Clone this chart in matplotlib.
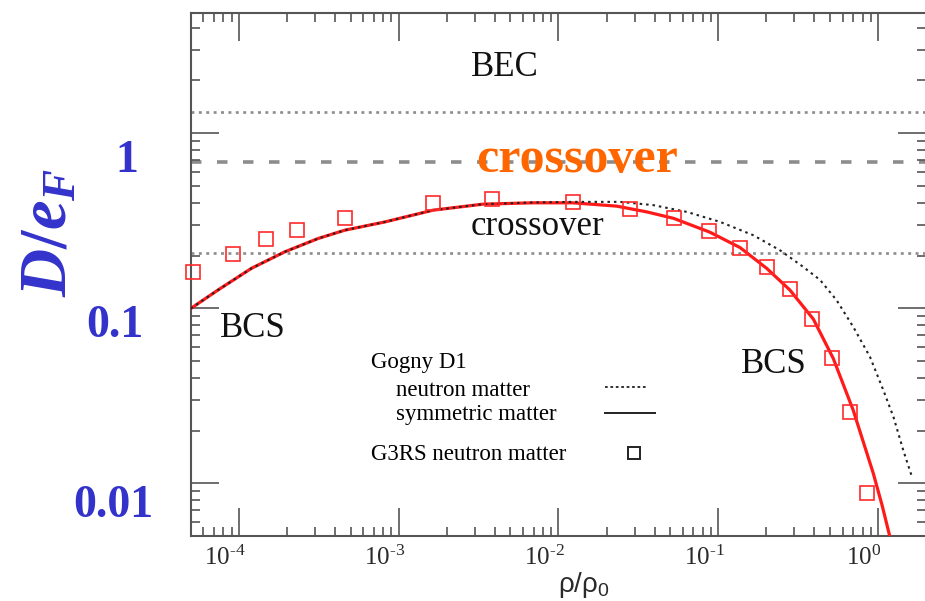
import matplotlib as mpl
mpl.use("Agg")
import matplotlib.pyplot as plt
from matplotlib.lines import Line2D
from matplotlib.ticker import FuncFormatter
from matplotlib.transforms import ScaledTranslation


# ---- data ----
# Gogny D1, symmetric matter (red solid)
rhoSym = [5.0e-5, 7.4e-5, 1.2e-4, 1.94e-4, 3.13e-4, 4.6e-4, 8.2e-4, 1.64e-3,
          3.37e-3, 6.95e-3, 1.23e-2, 2.31e-2, 3.57e-2, 5.26e-2, 8.85e-2, 0.137,
          0.201, 0.281, 0.394, 0.525, 0.70, 0.934, 1.06, 1.19]
gapSym = [0.0996, 0.127, 0.169, 0.210, 0.250, 0.279, 0.311, 0.363,
          0.393, 0.400, 0.400, 0.383, 0.355, 0.326, 0.272, 0.222,
          0.169, 0.127, 0.0866, 0.0516, 0.0261, 0.0114, 0.0075, 0.0049]

# Gogny D1, neutron matter (black dotted)
rhoNeu = [5.0e-5, 7.4e-5, 1.2e-4, 1.94e-4, 3.13e-4, 4.6e-4, 8.2e-4, 1.64e-3,
          3.37e-3, 6.95e-3, 1.23e-2, 2.43e-2, 3.92e-2, 6.36e-2, 0.103, 0.166,
          0.244, 0.341, 0.434, 0.551, 0.70, 0.891, 1.08, 1.25, 1.44, 1.63]
gapNeu = [0.0996, 0.127, 0.169, 0.210, 0.250, 0.279, 0.311, 0.363,
          0.393, 0.402, 0.405, 0.405, 0.388, 0.355, 0.311, 0.261,
          0.214, 0.172, 0.145, 0.111, 0.0782, 0.0527, 0.034, 0.0239, 0.0154, 0.0109]

# G3RS neutron matter (red squares)
rhoG3RS = [5.18e-5, 9.2e-5, 1.48e-4, 2.30e-4, 4.61e-4, 1.64e-3, 3.82e-3, 1.23e-2,
           2.81e-2, 5.28e-2, 8.79e-2, 0.137, 0.201, 0.281, 0.388, 0.513, 0.668, 0.85]
gapG3RS = [0.160, 0.205, 0.247, 0.279, 0.328, 0.397, 0.42, 0.405,
           0.371, 0.326, 0.275, 0.222, 0.171, 0.128, 0.0865, 0.052, 0.0255, 0.00885]

# crossover region boundaries and unitarity limit
crossoverBounds = [0.206, 1.32]
unitaryGap = 0.68

xMajorTicks = [1e-4, 1e-3, 1e-2, 1e-1, 1e0]
blueTickLabels = ["1", "0.1", "0.01"]


# ---- fonts ----
plt.rcParams["font.family"] = "Liberation Serif"
plt.rcParams["mathtext.fontset"] = "custom"
plt.rcParams["mathtext.rm"] = "Liberation Serif"
plt.rcParams["mathtext.it"] = "Liberation Serif:italic:bold"
plt.rcParams["mathtext.bf"] = "Liberation Serif:bold"
plt.rcParams["mathtext.sf"] = "Liberation Sans"

fig = plt.figure(figsize=(9.25, 6.01), dpi=100)
ax = fig.add_axes([0.2062, 0.1082, 0.795, 0.870])

axisGray = "#555555"
blue = "#3333CC"

# region lines
for yb in crossoverBounds:
    ax.axhline(yb, color="#8c8c8c", lw=1.9, ls=(0, (1.1, 1.7)), zorder=1)
ax.axhline(unitaryGap, color="#8c8c8c", lw=2.6, ls=(0, (2.9, 4.3)), zorder=1)

# curves
ax.plot(rhoSym, gapSym, color="#FF1A1A", lw=2.3, zorder=3)
ax.plot(rhoNeu, gapNeu, color="#222222", lw=1.5, ls=(0, (1.2, 1.9)), zorder=4)
ax.plot(rhoG3RS, gapG3RS, ls="none", marker="s", ms=10, mfc="none",
        mec="#FF2A2A", mew=1.2, zorder=5, clip_on=False)

ax.set_xscale("log")
ax.set_yscale("log")
ax.set_xlim(5e-5, 2.0)
ax.set_ylim(0.005, 4.85)
ax.set_xticks(xMajorTicks)


def decadeLabel(val, pos):
    # 10 with a hyphen exponent like the original figure
    e = 0
    v = val
    while v < 0.999:
        v *= 10
        e -= 1
    if e == 0:
        return r"$\mathregular{10^{0}}$"
    return r"$\mathregular{10^{\text{-}%d}}$" % (-e)
#end-def


ax.xaxis.set_major_formatter(FuncFormatter(decadeLabel))

ax.tick_params(which="both", direction="in", top=True, right=True,
               color=axisGray, width=1.2)
ax.tick_params(which="major", length=20)
ax.tick_params(which="minor", length=6.5)
ax.tick_params(axis="x", labelsize=18, pad=7, labelcolor="#2a2a2a")
ax.tick_params(axis="y", labelleft=False)
for s in ax.spines.values():
    s.set_color(axisGray)
    s.set_linewidth(1.5)

ax.set_xlabel(r"$\mathsf{\rho/\rho_0}$", fontsize=20, color="#2a2a2a")
ax.xaxis.set_label_coords(0.535, -0.065)

# region labels
ax.text(4.6e-3, 2.118, "BEC", fontsize=25, ha="center", va="baseline", color="#111111")
ax.text(7.4e-3, 0.262, "crossover", fontsize=25, ha="center", va="baseline", color="#111111")
ax.text(0.0131, 0.598, "crossover", fontsize=36, fontweight="bold", ha="center",
        va="baseline", color="#FF6600")
ax.text(1.215e-4, 0.0683, "BCS", fontsize=25, ha="center", va="baseline", color="#111111")
ax.text(0.222, 0.0425, "BCS", fontsize=25, ha="center", va="baseline", color="#111111")

# hand-made legend block
legSize = 16.5
ax.text(0.2452, 0.3212, "Gogny D1", transform=ax.transAxes, fontsize=legSize, va="baseline")
ax.text(0.2792, 0.2677, "neutron matter", transform=ax.transAxes, fontsize=legSize, va="baseline")
ax.text(0.2792, 0.2218, "symmetric matter", transform=ax.transAxes, fontsize=legSize, va="baseline")
ax.text(0.2452, 0.1453, "G3RS neutron matter", transform=ax.transAxes, fontsize=legSize, va="baseline")
ax.add_line(Line2D([0.5634, 0.6206], [0.2849, 0.2849], transform=ax.transAxes,
                   color="#222222", lw=1.3, ls=(0, (1.5, 1.5))))
ax.add_line(Line2D([0.5634, 0.6314], [0.2352, 0.2352], transform=ax.transAxes,
                   color="#222222", lw=1.4))
ax.add_line(Line2D([0.6029], [0.1587], transform=ax.transAxes, ls="none", marker="s",
                   ms=9, mfc="none", mec="#222222", mew=1.4))

# blue overlay labels
fig.text(50 / 925, 1 - 232 / 601, r"$D\mathbf{/}e_F$", fontsize=48, color=blue,
         rotation=90, ha="center", va="center")
blueX = [127, 115, 113]
blueBase = [172, 337, 517]
for lab, px, py in zip(blueTickLabels, blueX, blueBase):
    fig.text(px / 925, 1 - py / 601, lab, fontsize=33, fontweight="bold",
             color=blue, ha="center", va="baseline")

# the original tick labels sit a little left of their ticks
fig.canvas.draw()
shift = ScaledTranslation(-14 / 100, 0, fig.dpi_scale_trans)
for tick in ax.xaxis.get_major_ticks():
    tick.label1.set_transform(tick.label1.get_transform() + shift)

plt.savefig("out.png", dpi=100)
